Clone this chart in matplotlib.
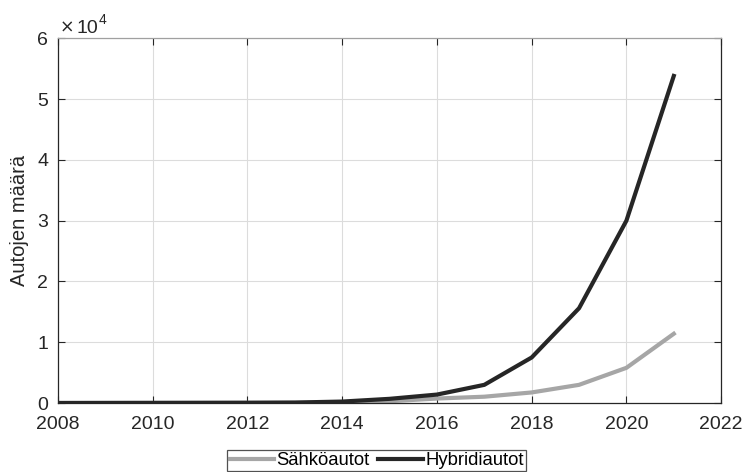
import matplotlib
matplotlib.use("Agg")
import matplotlib.pyplot as plt

plt.rcParams["font.family"] = ["Liberation Sans", "DejaVu Sans"]

years = [2008, 2009, 2010, 2011, 2012, 2013, 2014, 2015, 2016, 2017, 2018, 2019, 2020, 2021]
sahko = [5, 10, 15, 20, 30, 40, 100, 300, 750, 1050, 1750, 3000, 5800, 11400]
hybridi = [20, 30, 40, 50, 60, 90, 250, 700, 1400, 3000, 7500, 15600, 30000, 53800]

fig = plt.figure(figsize=(7.46, 4.72), dpi=100)
ax = fig.add_axes([0.0777, 0.146, 0.889, 0.773])

ax.plot(years, sahko, color="#a6a6a6", lw=3.0, label="Sähköautot")
ax.plot(years, hybridi, color="#262626", lw=3.0, label="Hybridiautot")

ax.set_xlim(2008, 2022)
ax.set_ylim(0, 60000)
ax.set_xticks(range(2008, 2023, 2))
ax.set_yticks(range(0, 60001, 10000))
ax.set_yticklabels([str(v // 10000) for v in range(0, 60001, 10000)])

# exponent label, MATLAB style
ax.annotate("\u00d7", xy=(0, 1), xycoords="axes fraction", xytext=(1.5, 4),
            textcoords="offset points", fontsize=12.5, ha="left", va="baseline",
            color="#262626", family="DejaVu Sans")
ax.annotate("10", xy=(0, 1), xycoords="axes fraction", xytext=(13.5, 4),
            textcoords="offset points", fontsize=14, ha="left", va="baseline",
            color="#262626")
ax.annotate("4", xy=(0, 1), xycoords="axes fraction", xytext=(29.3, 10),
            textcoords="offset points", fontsize=10, ha="left", va="baseline",
            color="#262626")
ax.set_ylabel("Autojen määrä", fontsize=14.5, color="#262626", labelpad=6)

ax.grid(True, color="#dcdcdc", lw=0.8)
ax.set_axisbelow(True)
ax.tick_params(direction="in", top=True, right=True, labelsize=14,
               colors="#262626", length=5)
ax.tick_params(axis="y", pad=7)
ax.tick_params(axis="x", pad=9)
for s in ax.spines.values():
    s.set_color("#262626")
    s.set_linewidth(0.9)
ax.spines["top"].set_color("#a0a0a0")

leg = fig.legend(loc="center", bbox_to_anchor=(0.505, 0.024), ncol=2,
                 fontsize=13.3, frameon=True, fancybox=False, handlelength=2.4,
                 handletextpad=0.15, columnspacing=0.45, borderpad=0.12,
                 borderaxespad=0)
leg.get_frame().set_edgecolor("#262626")
leg.get_frame().set_linewidth(0.9)

fig.savefig("out.png", dpi=100)
